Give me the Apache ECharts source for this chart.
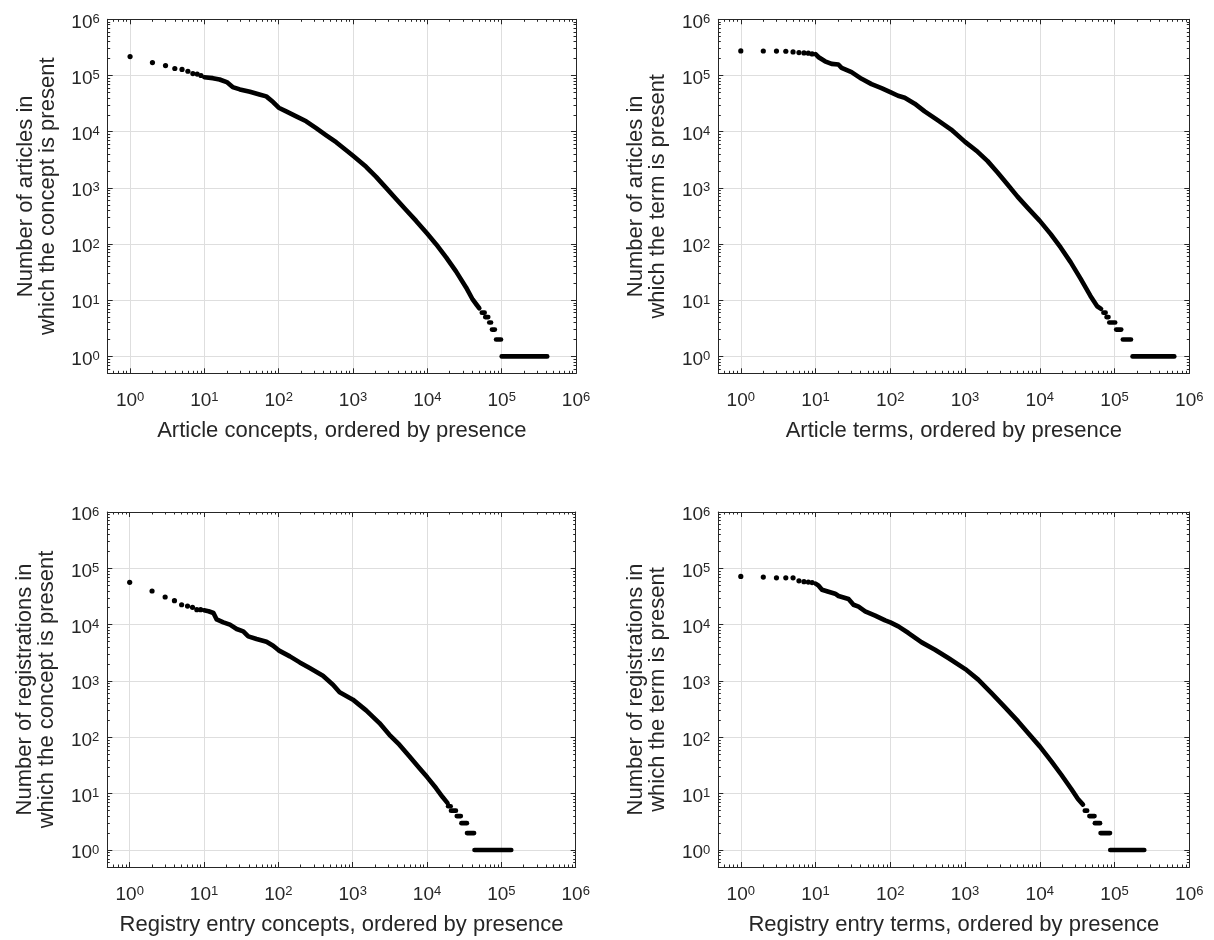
<!DOCTYPE html>
<html><head><meta charset="utf-8">
<script src="https://cdn.jsdelivr.net/npm/echarts@6/dist/echarts.min.js"></script>
<style>html,body{margin:0;padding:0;background:#fff}#c{width:1214px;height:940px}</style>
</head><body><div id="c"></div>
<script>
// ---------- tick definitions ----------
const tickExponents = [0, 1, 2, 3, 4, 5, 6];
const minorMultipliers = [2, 3, 4, 5, 6, 7, 8, 9];
const axisMin = 0.5, axisMax = 1e6;

// ---------- texts ----------
const xTitles = [
  'Article concepts, ordered by presence',
  'Article terms, ordered by presence',
  'Registry entry concepts, ordered by presence',
  'Registry entry terms, ordered by presence'
];
const yTitles = [
  'Number of articles in\nwhich the concept is present',
  'Number of articles in\nwhich the term is present',
  'Number of registrations in\nwhich the concept is present',
  'Number of registrations in\nwhich the term is present'
];

// ---------- data: [rank, count] ----------
// Panel 1: Article concepts
const p1Head = [[1,2.17e5],[2,1.70e5],[3,1.50e5],[4,1.33e5],[5,1.28e5],[6,1.19e5],[7,1.08e5],[8,1.06e5],[9,1.0e5]];
const p1Band = [[10,9.3e4],[13,8.97e4],[16,8.49e4],[20,7.62e4],[24,6.21e4],[30,5.65e4],[41,5.13e4],[55,4.6e4],[68,4.25e4],[84,3.37e4],[100,2.67e4],[126,2.30e4],[172,1.87e4],[234,1.53e4],[319,1.16e4],[436,8630],[593,6490],[809,4680],[1000,3720],[1500,2370],[2046,1570],[2786,1000],[3800,632],[5176,404],[7063,258],[1e4,152],[1.31e4,99.5],[1.79e4,57.7],[2.43e4,32.6],[3.32e4,16.9],[4.07e4,10.3],[4.6e4,8.3],[5.0e4,7.2]];
const p1Tail = [[6,5.4e4,5.9e4],[5,6.0e4,6.6e4],[4,6.8e4,7.2e4],[3,7.4e4,8.1e4],[2,8.4e4,9.8e4],[1,1.0e5,4.1e5]];

// Panel 2: Article terms
const p2Head = [[1,2.74e5],[2,2.73e5],[3,2.72e5],[4,2.70e5],[5,2.63e5],[6,2.56e5],[7,2.52e5],[8,2.49e5],[9,2.42e5]];
const p2Band = [[10,2.39e5],[11,2.11e5],[13.4,1.79e5],[16.4,1.61e5],[20.2,1.57e5],[22.3,1.37e5],[30.3,1.15e5],[41.3,8.73e4],[56.1,7.01e4],[76.2,5.96e4],[100,5.06e4],[127,4.36e4],[156,4.02e4],[212,3.15e4],[288,2.30e4],[434,1.59e4],[652,1.09e4],[1000,6580],[1476,4380],[2004,2990],[2723,1880],[3707,1150],[5035,697],[6839,445],[1e4,258],[1.40e4,150],[1.90e4,86.9],[2.58e4,47.6],[3.51e4,24.2],[4.76e4,11.9],[5.85e4,7.8],[6.6e4,7]];
const p2Tail = [[6,7.1e4,7.6e4],[5,7.8e4,8.3e4],[4,8.5e4,1.02e5],[3,1.05e5,1.23e5],[2,1.29e5,1.66e5],[1,1.74e5,6.3e5]];

// Panel 3: Registry entry concepts
const p3Head = [[1,5.64e4],[2,3.96e4],[3,3.10e4],[4,2.67e4],[5,2.26e4],[6,2.14e4],[7,2.03e4],[8,1.85e4],[9,1.85e4]];
const p3Band = [[10,1.80e4],[11.5,1.73e4],[13.4,1.61e4],[14.8,1.24e4],[18.2,1.10e4],[22.3,1.0e4],[27.5,8370],[33.7,7620],[39.4,6210],[50.9,5570],[69.3,4990],[85.1,4240],[101,3500],[143,2740],[194,2140],[264,1700],[398,1240],[543,861],[667,630],[1007,467],[1517,301],[2291,179],[3119,111],[4246,74.1],[5781,46],[7870,28.6],[1.01e4,19.5],[1.32e4,12.6],[1.62e4,8.73],[1.89e4,6.8]];
const p3Tail = [[6,1.92e4,2.08e4],[5,2.1e4,2.45e4],[4,2.51e4,2.85e4],[3,2.9e4,3.44e4],[2,3.45e4,4.3e4],[1,4.35e4,1.36e5]];

// Panel 4: Registry entry terms
const p4Head = [[1,7.2e4],[2,7.0e4],[3,6.8e4],[4,6.8e4],[5,6.8e4],[6,6.0e4],[7,5.8e4],[8,5.7e4],[9,5.6e4]];
const p4Band = [[10,5.35e4],[11,4.92e4],[12.2,4.18e4],[14.9,3.85e4],[18.3,3.55e4],[20.3,3.23e4],[27.6,2.86e4],[32.2,2.26e4],[37.6,2.09e4],[46.1,1.73e4],[62.7,1.45e4],[85.3,1.19e4],[100,1.10e4],[128,9330],[175,7110],[263,4850],[396,3600],[597,2560],[1007,1630],[1500,1060],[2259,612],[3404,345],[5129,192],[6966,119],[9977,69.2],[1.43e4,37.5],[1.94e4,21.7],[2.64e4,12.1],[3.24e4,8.04],[3.78e4,6.4]];
const p4Tail = [[5,4.0e4,4.3e4],[4,4.6e4,5.4e4],[3,5.45e4,6.4e4],[2,6.5e4,8.7e4],[1,8.75e4,2.5e5]];

const panels = [
  {head: p1Head, band: p1Band, tail: p1Tail},
  {head: p2Head, band: p2Band, tail: p2Tail},
  {head: p3Head, band: p3Band, tail: p3Tail},
  {head: p4Head, band: p4Band, tail: p4Tail}
];

// ---------- layout / style ----------
const gridBoxes = [
  {left: 107.7, top: 19.3, width: 468.3, height: 354},
  {left: 718.3, top: 19.3, width: 471, height: 354},
  {left: 107.3, top: 512, width: 468.4, height: 355},
  {left: 718.3, top: 512, width: 471, height: 355}
];
const FONT = 'Liberation Sans, Arial, Helvetica, sans-serif';
const AX = '#262626';
const GRIDC = '#dedede';

const minorTicks = [];
for (let e = -1; e <= 5; e++) {
  minorMultipliers.forEach(m => {
    const v = m * Math.pow(10, e);
    if (v > axisMin && v < axisMax) minorTicks.push(v);
  });
}

function powLabel(v) {
  const l = Math.log10(v);
  const e = Math.round(l);
  if (Math.abs(l - e) > 1e-6 || tickExponents.indexOf(e) < 0) return '';
  return '{b|10}{s|' + e + '}';
}
const rich = {
  b: {fontSize: 19, fontFamily: FONT, color: AX, lineHeight: 19, padding: [3, 0, 0, 0], verticalAlign: 'bottom'},
  s: {fontSize: 13, fontFamily: FONT, color: AX, lineHeight: 13, verticalAlign: 'top'}
};

const grid = [], xAxis = [], yAxis = [], series = [];
panels.forEach((p, g) => {
  grid.push(Object.assign({containLabel: false, outerBoundsMode: 'none'}, gridBoxes[g]));
  const base = {type: 'log', logBase: 10, min: axisMin, max: axisMax, gridIndex: g, splitNumber: 6};
  // X axes
  xAxis.push(Object.assign({}, base, {
    position: 'bottom',
    name: xTitles[g], nameLocation: 'middle', nameGap: 47,
    nameTextStyle: {fontSize: 22, fontFamily: FONT, color: AX},
    axisLine: {show: true, onZero: false, lineStyle: {color: AX, width: 1}},
    axisTick: {show: true, inside: true, length: 5, lineStyle: {color: AX}},
    axisLabel: {show: true, margin: 18, formatter: powLabel, rich: rich, showMinLabel: true, showMaxLabel: true, hideOverlap: false},
    splitLine: {show: true, lineStyle: {color: GRIDC, width: 1}},
    minorTick: {show: false}
  }));
  xAxis.push(Object.assign({}, base, {
    position: 'bottom',
    axisLine: {show: false, onZero: false},
    axisTick: {show: true, inside: true, length: 2.5, customValues: minorTicks, lineStyle: {color: AX}},
    axisLabel: {show: false}, splitLine: {show: false}
  }));
  xAxis.push(Object.assign({}, base, {
    position: 'top',
    axisLine: {show: true, onZero: false, lineStyle: {color: AX, width: 1}},
    axisTick: {show: true, inside: true, length: 5, lineStyle: {color: AX}},
    axisLabel: {show: false}, splitLine: {show: false}
  }));
  xAxis.push(Object.assign({}, base, {
    position: 'top',
    axisLine: {show: false, onZero: false},
    axisTick: {show: true, inside: true, length: 2.5, customValues: minorTicks, lineStyle: {color: AX}},
    axisLabel: {show: false}, splitLine: {show: false}
  }));
  // Y axes
  yAxis.push(Object.assign({}, base, {
    position: 'left',
    name: yTitles[g], nameLocation: 'middle', nameGap: 49, nameRotate: 90,
    nameTextStyle: {fontSize: 22, fontFamily: FONT, color: AX, lineHeight: 22},
    axisLine: {show: true, onZero: false, lineStyle: {color: AX, width: 1}},
    axisTick: {show: true, inside: true, length: 5, lineStyle: {color: AX}},
    axisLabel: {show: true, margin: 8, formatter: powLabel, rich: rich, showMinLabel: true, showMaxLabel: true, hideOverlap: false, padding: [6, 0, 0, 0]},
    splitLine: {show: true, lineStyle: {color: GRIDC, width: 1}}
  }));
  yAxis.push(Object.assign({}, base, {
    position: 'left',
    axisLine: {show: false, onZero: false},
    axisTick: {show: true, inside: true, length: 2.5, customValues: minorTicks, lineStyle: {color: AX}},
    axisLabel: {show: false}, splitLine: {show: false}
  }));
  yAxis.push(Object.assign({}, base, {
    position: 'right',
    axisLine: {show: true, onZero: false, lineStyle: {color: AX, width: 1}},
    axisTick: {show: true, inside: true, length: 5, lineStyle: {color: AX}},
    axisLabel: {show: false}, splitLine: {show: false}
  }));
  yAxis.push(Object.assign({}, base, {
    position: 'right',
    axisLine: {show: false, onZero: false},
    axisTick: {show: true, inside: true, length: 2.5, customValues: minorTicks, lineStyle: {color: AX}},
    axisLabel: {show: false}, splitLine: {show: false}
  }));

  const xi = g * 4, yi = g * 4;
  series.push({
    type: 'scatter', xAxisIndex: xi, yAxisIndex: yi, data: p.head,
    symbol: 'circle', symbolSize: 5.2, itemStyle: {color: '#000', opacity: 1}, silent: true
  });
  series.push({
    type: 'line', xAxisIndex: xi, yAxisIndex: yi, data: p.band,
    showSymbol: false, symbol: 'none', lineStyle: {color: '#000', width: 4.6, cap: 'round', join: 'round'}, silent: true
  });
  p.tail.forEach(t => {
    series.push({
      type: 'line', xAxisIndex: xi, yAxisIndex: yi, data: [[t[1], t[0]], [t[2], t[0]]],
      showSymbol: false, symbol: 'none', lineStyle: {color: '#000', width: 4.6, cap: 'round'}, silent: true
    });
  });
});

const chart = echarts.init(document.getElementById('c'), null, {renderer: 'canvas'});
chart.setOption({animation: false, backgroundColor: '#fff', grid, xAxis, yAxis, series});
</script></body></html>
